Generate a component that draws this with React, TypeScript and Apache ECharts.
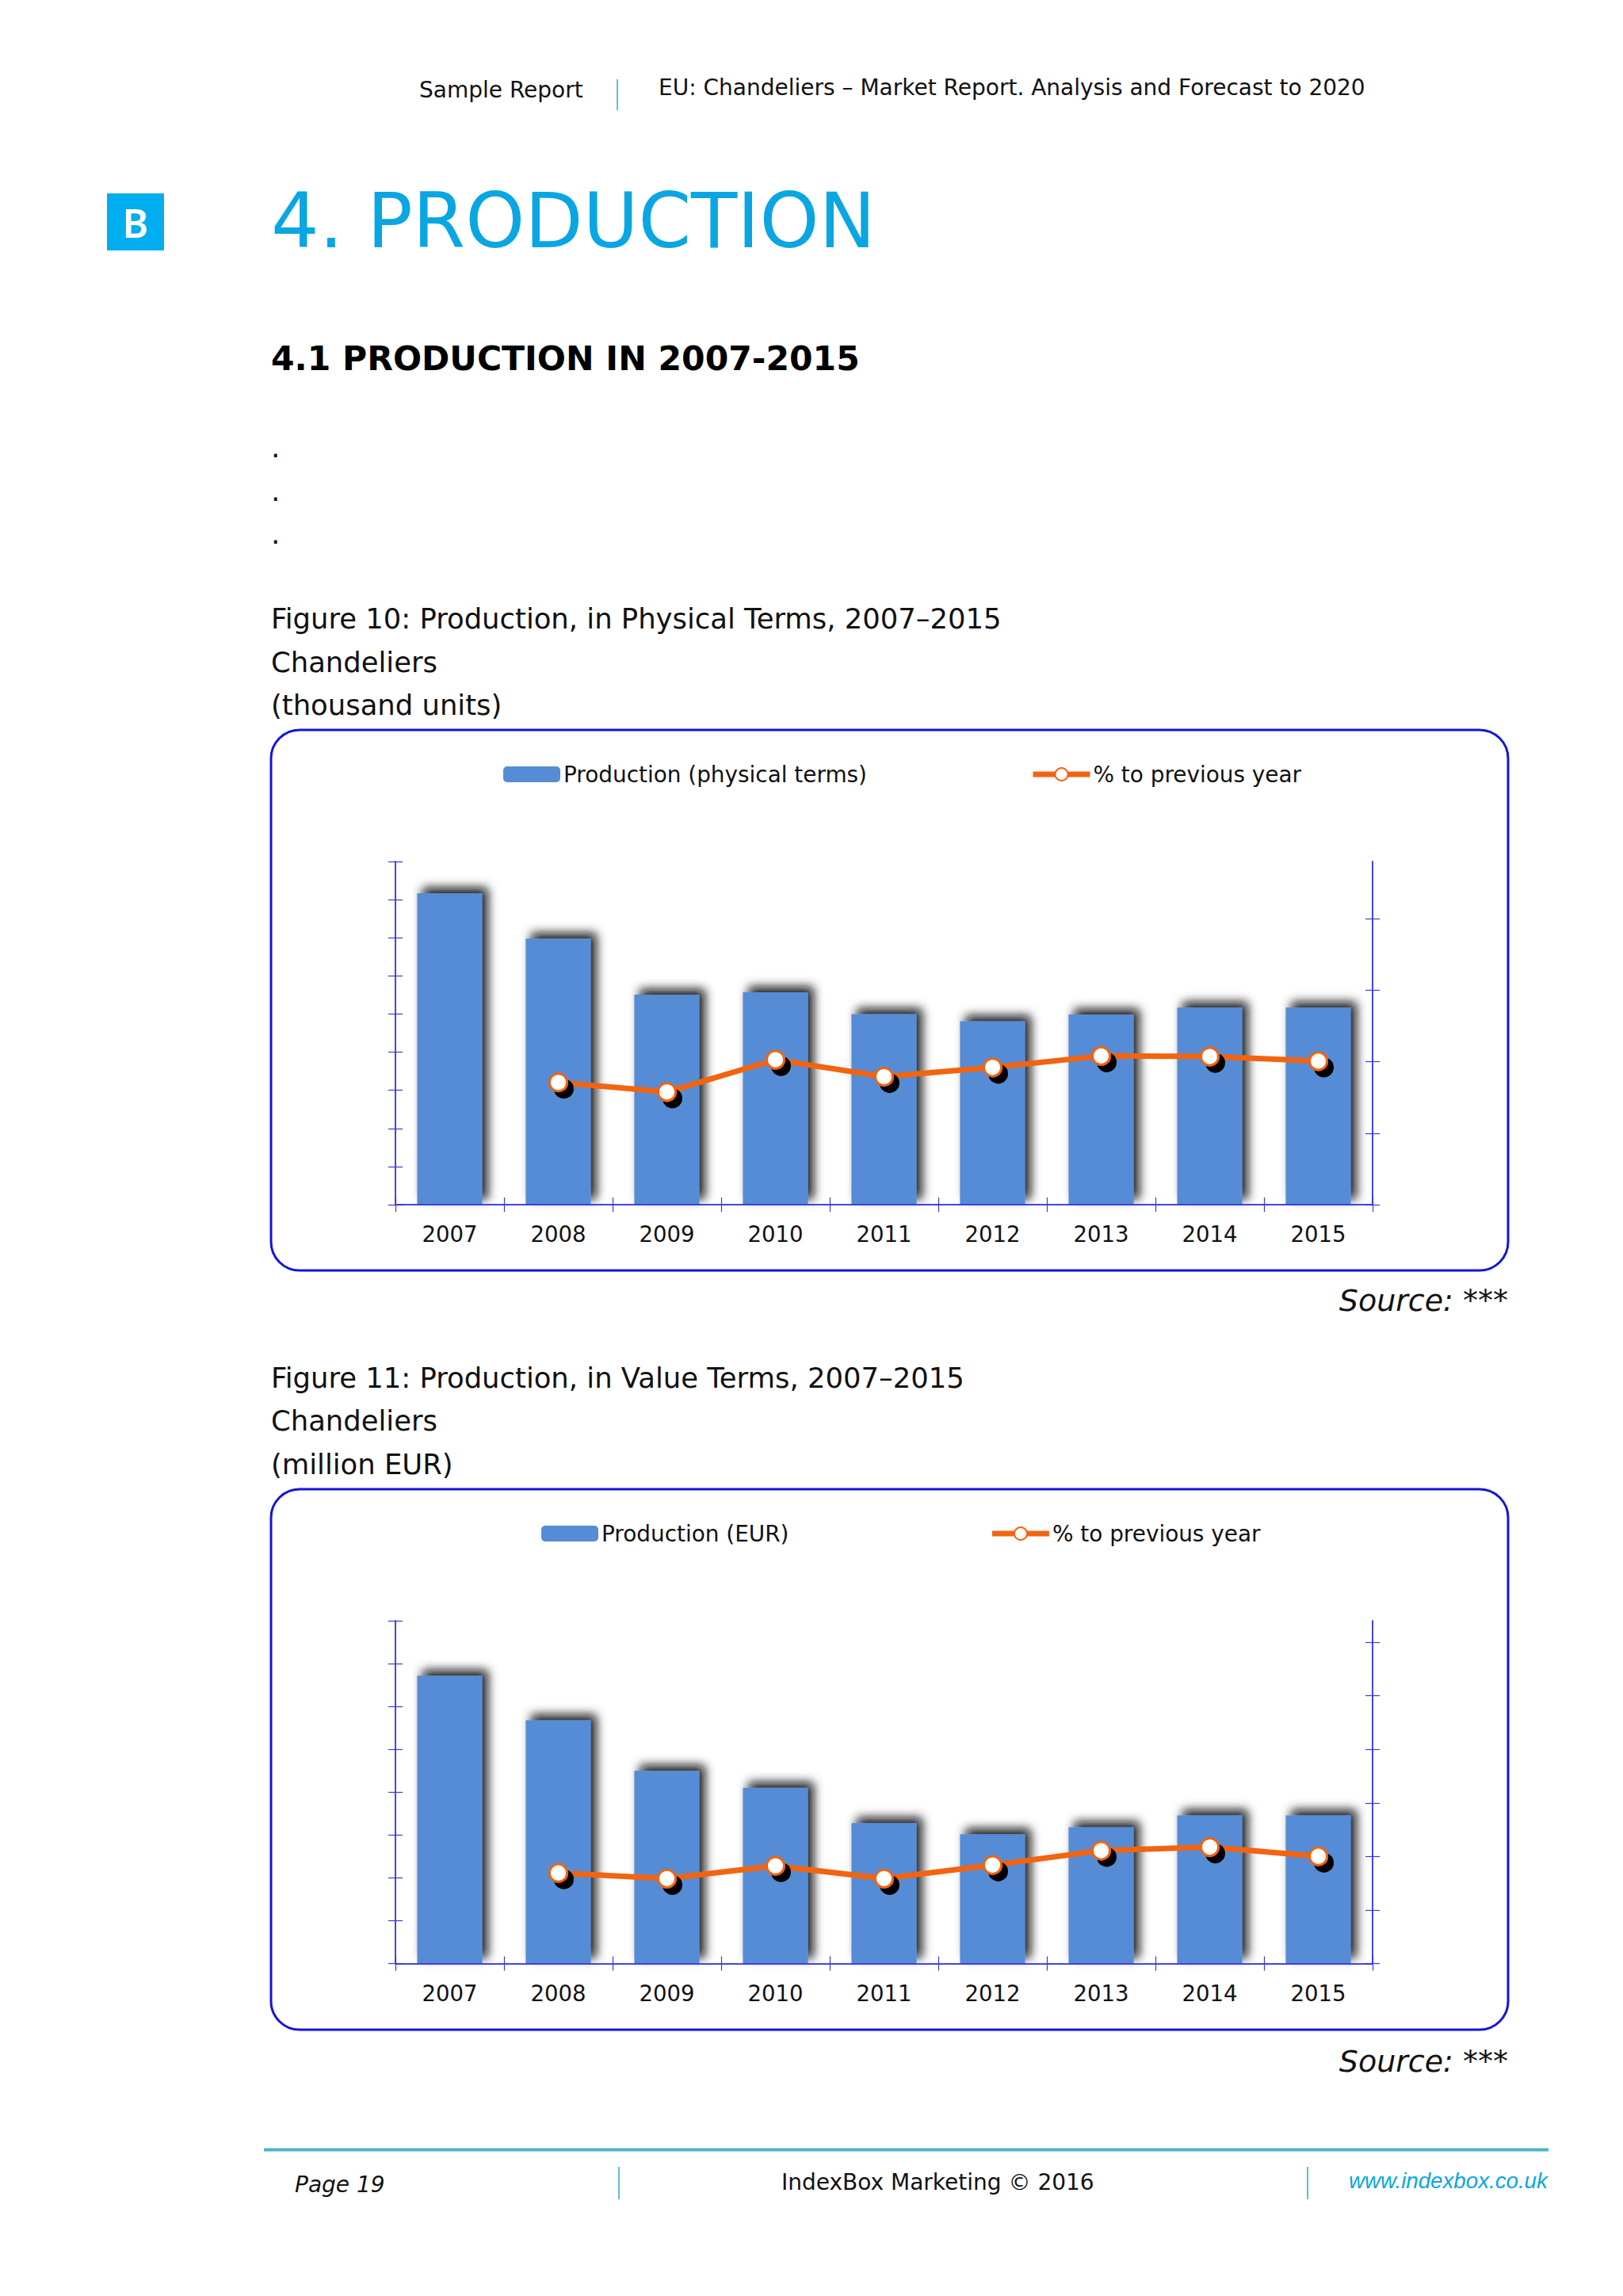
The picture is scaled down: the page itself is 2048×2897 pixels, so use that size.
import React, { useEffect, useRef } from "react";
import * as echarts from "echarts";

const years = ["2007", "2008", "2009", "2010", "2011", "2012", "2013", "2014", "2015"];
const physicalValues = [817, 698, 551, 557, 500, 481, 499, 517, 517];
const physicalPct = [null, 85.5, 78.8, 101.4, 89.5, 96, 104, 103.6, 100.4];
const valueValues = [336, 284, 225, 205, 164, 151, 159, 173, 173];
const valuePct = [null, 84.6, 79.3, 91.2, 79.3, 91.9, 105.4, 108.7, 100.1];
const pctName = "% to previous year";
const physicalName = "Production (physical terms)";
const valueName = "Production (EUR)";
const fig10Lines = ["Figure 10: Production, in Physical Terms, 2007–2015", "Chandeliers", "(thousand units)"];
const fig11Lines = ["Figure 11: Production, in Value Terms, 2007–2015", "Chandeliers", "(million EUR)"];

const SANS = "'DejaVu Sans'";
const AXIS = "#3a3ad8";
const ORANGE = "#f26411";
const BAR = "#558cd5";

const txt = (text: string, x: number, y: number, fontSize: number, extra: any = {}) => ({
  type: "text",
  x,
  y,
  silent: true,
  style: { text, fontSize, fontFamily: SANS, fill: "#111", textVerticalAlign: "middle", ...extra },
});
const vline = (x: number, y1: number, y2: number) => ({
  type: "line",
  silent: true,
  shape: { x1: x, y1, x2: x, y2 },
  style: { stroke: "#62bdd6", lineWidth: 2 },
});
const panel = (y: number, h: number) => ({
  type: "rect",
  silent: true,
  shape: { x: 342, y, width: 1561, height: h, r: 36 },
  style: { fill: "none", stroke: "#1414dc", lineWidth: 3 },
});

const axisLine = { show: true, onZero: false, lineStyle: { color: AXIS, width: 1.5 } };
const tickStyle = { color: AXIS, width: 1.2 };

function xAxes(gridIndex: number) {
  const common = { type: "category", data: years, gridIndex, position: "bottom", z: 3, axisLine };
  return [
    {
      ...common,
      axisTick: { show: true, length: 9, inside: false, alignWithLabel: false, lineStyle: tickStyle },
      axisLabel: { show: true, fontFamily: SANS, fontSize: 27.5, color: "#111", margin: 23, interval: 0 },
    },
    {
      ...common,
      axisTick: { show: true, length: 9, inside: true, alignWithLabel: false, lineStyle: tickStyle },
      axisLabel: { show: false },
    },
  ];
}

function yAxes(gridIndex: number, leftMax: number, leftStep: number, rightMax: number, rightTicks: number[]) {
  const base = { type: "value", gridIndex, axisLabel: { show: false }, splitLine: { show: false }, axisLine, z: 3 };
  const left = { ...base, position: "left", min: 0, max: leftMax, interval: leftStep };
  const right = { ...base, position: "right", min: 0, max: rightMax, interval: 50 };
  return [
    { ...left, axisTick: { show: true, length: 9, inside: false, lineStyle: tickStyle } },
    { ...right, axisTick: { show: true, length: 9, inside: false, lineStyle: tickStyle, customValues: rightTicks } },
    { ...left, axisTick: { show: true, length: 9, inside: true, lineStyle: tickStyle } },
    { ...right, axisTick: { show: true, length: 9, inside: true, lineStyle: tickStyle, customValues: rightTicks } },
  ];
}

function seriesFor(name: string, bars: number[], pct: (number | null)[], xi: number, yi: number) {
  return [
    {
      type: "bar",
      name,
      data: bars,
      xAxisIndex: xi,
      yAxisIndex: yi,
      barWidth: "60%",
      z: 2,
      itemStyle: {
        color: BAR,
        shadowColor: "rgba(15,15,15,0.95)",
        shadowBlur: 13,
        shadowOffsetX: 7,
        shadowOffsetY: -7,
      },
    },
    {
      type: "line",
      name: pctName,
      data: pct,
      xAxisIndex: xi,
      yAxisIndex: yi + 1,
      z: 5,
      symbol: "circle",
      symbolSize: 22,
      showSymbol: true,
      connectNulls: false,
      lineStyle: { color: ORANGE, width: 7 },
      itemStyle: {
        color: "#ffffff",
        borderColor: ORANGE,
        borderWidth: 3,
        shadowColor: "#000000",
        shadowBlur: 1,
        shadowOffsetX: 7,
        shadowOffsetY: 8,
      },
    },
  ];
}

const legendFor = (name: string, left: number, top: number, gap: number) => ({
  show: true,
  data: [name, pctName],
  left,
  top,
  orient: "horizontal",
  itemWidth: 72,
  itemHeight: 20,
  itemGap: gap,
  selectedMode: false,
  padding: 0,
  textStyle: { fontFamily: SANS, fontSize: 27.9, color: "#111", padding: [0, 0, 0, -1] },
  lineStyle: { width: 7, color: ORANGE },
  itemStyle: { borderWidth: 2, shadowBlur: 0, shadowOffsetX: 0, shadowOffsetY: 0, shadowColor: "transparent" },
});

const figureText = (lines: string[], ys: number[]) => lines.map((l, i) => txt(l, 342, ys[i], 35.4));

export default function App() {
  const ref = useRef<HTMLDivElement>(null);
  useEffect(() => {
    if (!ref.current) return;
    const chart = echarts.init(ref.current, undefined, { renderer: "svg" });
    chart.setOption({
      animation: false,
      backgroundColor: "#ffffff",
      grid: [
        { left: 499, right: 316, top: 1087, height: 433, containLabel: false },
        { left: 499, right: 316, top: 2045, height: 432.5, containLabel: false },
      ],
      legend: [legendFor(physicalName, 635, 963, 206), legendFor(valueName, 683, 1921, 253)],
      xAxis: [...xAxes(0), ...xAxes(1)],
      yAxis: [
        ...yAxes(0, 900, 100, 240, [0, 50, 100, 150, 200]),
        ...yAxes(1, 400, 50, 320, [0, 50, 100, 150, 200, 250, 300]),
      ],
      series: [
        ...seriesFor(physicalName, physicalValues, physicalPct, 0, 0),
        ...seriesFor(valueName, valueValues, valuePct, 2, 4),
      ],
      graphic: {
        elements: [
          txt("Sample Report", 529, 113, 28),
          vline(779, 100, 139),
          txt("EU: Chandeliers – Market Report. Analysis and Forecast to 2020", 831, 110, 28),
          {
            type: "rect",
            silent: true,
            shape: { x: 135, y: 244, width: 72, height: 72 },
            style: { fill: "#00aeef" },
          },
          txt("B", 171, 281, 50, { fill: "#ffffff", textAlign: "center", fontFamily: "'Noto Sans'", fontWeight: 600 }),
          txt("4. PRODUCTION", 342, 278, 95.4, { fill: "#0aa6e2" }),
          txt("4.1 PRODUCTION IN 2007-2015", 342, 452, 42.5, { fontWeight: "bold", fill: "#000" }),
          txt(".", 342, 564, 36),
          txt(".", 342, 619, 36),
          txt(".", 342, 673, 36),
          ...figureText(fig10Lines, [780, 835, 889]),
          panel(921, 682),
          txt("Source: ***", 1903, 1641, 38, { textAlign: "right", fontStyle: "italic" }),
          ...figureText(fig11Lines, [1738, 1792, 1847]),
          panel(1879, 682),
          txt("Source: ***", 1903, 2601, 38, { textAlign: "right", fontStyle: "italic" }),
          {
            type: "line",
            silent: true,
            shape: { x1: 333, y1: 2712.5, x2: 1954, y2: 2712.5 },
            style: { stroke: "#4bb3c8", lineWidth: 4 },
          },
          txt("Page 19", 372, 2756.5, 28, { fontStyle: "italic" }),
          vline(781, 2734, 2775),
          txt("IndexBox Marketing © 2016", 986, 2753.5, 28),
          vline(1650, 2734, 2775),
          txt("www.indexbox.co.uk", 1702, 2751.5, 27.7, {
            fill: "#0aa6e2",
            fontStyle: "italic",
            fontFamily: "'Liberation Sans'",
          }),
        ],
      },
    });
    return () => chart.dispose();
  }, []);
  return <div ref={ref} style={{ position: "absolute", left: 0, top: 0, width: 2048, height: 2897 }} />;
}
